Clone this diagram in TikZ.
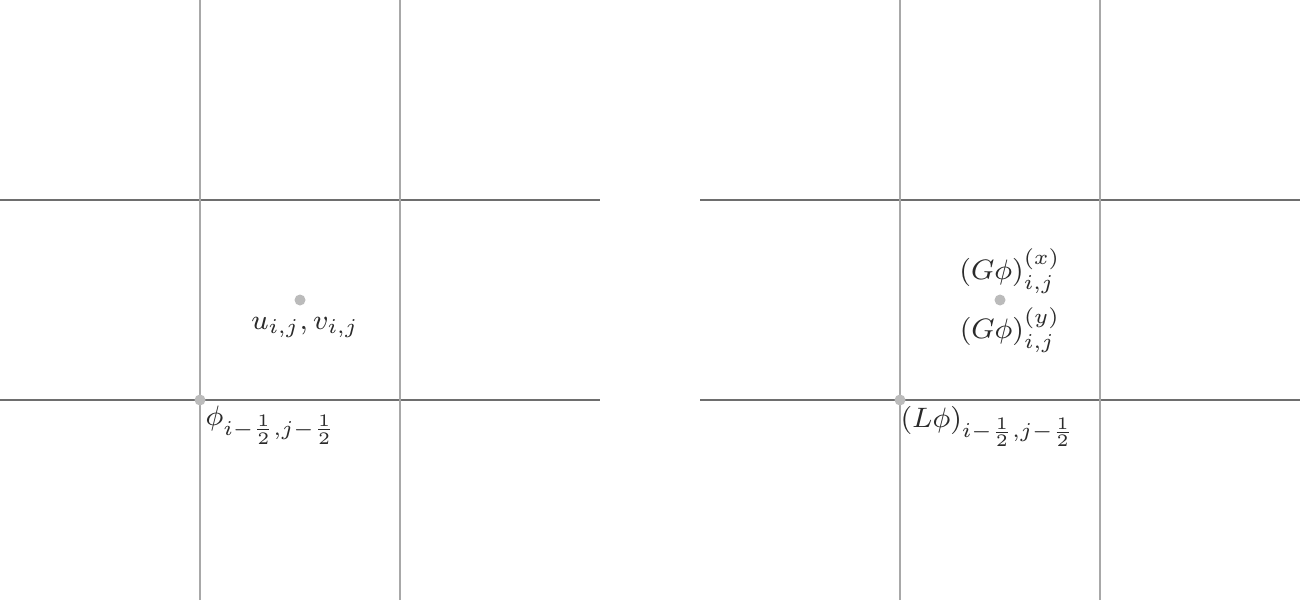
\documentclass[tikz,border=0pt]{standalone}
\usetikzlibrary{positioning}
\definecolor{gridv}{HTML}{A8A8A8}
\definecolor{gridh}{HTML}{6E6E6E}
\definecolor{dotc}{HTML}{BBBBBB}
\definecolor{txt}{HTML}{2A2A2A}
\tikzset{
  vline/.style={draw=gridv, line width=0.35pt},
  hline/.style={draw=gridh, line width=0.35pt},
  gdot/.style={circle, fill=dotc, inner sep=0pt, minimum size=0.11cm},
  lbl/.style={text=txt, inner sep=1pt, font=\fontsize{8.5}{10}\selectfont}
}
\begin{document}
\begin{tikzpicture}[x=1cm,y=1cm]
\useasboundingbox (0,0) rectangle (13,6);
% left grid
\draw[hline] (0,4) -- (6,4);
\draw[hline] (0,2) -- (6,2);
\draw[vline] (2,0) -- (2,6);
\draw[vline] (4,0) -- (4,6);
% right grid
\draw[hline] (7,4) -- (13,4);
\draw[hline] (7,2) -- (13,2);
\draw[vline] (9,0) -- (9,6);
\draw[vline] (11,0) -- (11,6);
% left points
\node[gdot] (uv) at (3,3) {};
\node[gdot] (phi) at (2,2) {};
\node[lbl, anchor=north] (uvl) at ([xshift=0.05cm,yshift=-0.07cm]uv.south) {$u_{i,j}, v_{i,j}$};
\node[lbl, anchor=north west] (phil) at ([xshift=-0.03cm,yshift=0.03cm]phi.south east) {$\phi_{i-\frac{1}{2},j-\frac{1}{2}}$};
% right points
\node[gdot] (g) at (10,3) {};
\node[gdot] (l) at (9,2) {};
\node[lbl, anchor=south] (gx) at ([xshift=0.1cm,yshift=-0.04cm]g.north) {$(G\phi)^{(x)}_{i,j}$};
\node[lbl, anchor=north] (gy) at ([xshift=0.1cm,yshift=0.03cm]g.south) {$(G\phi)^{(y)}_{i,j}$};
\node[lbl, anchor=north west] (ll) at ([xshift=-0.08cm,yshift=0.02cm]l.south east) {$(L\phi)_{i-\frac{1}{2},j-\frac{1}{2}}$};
\end{tikzpicture}
\end{document}
